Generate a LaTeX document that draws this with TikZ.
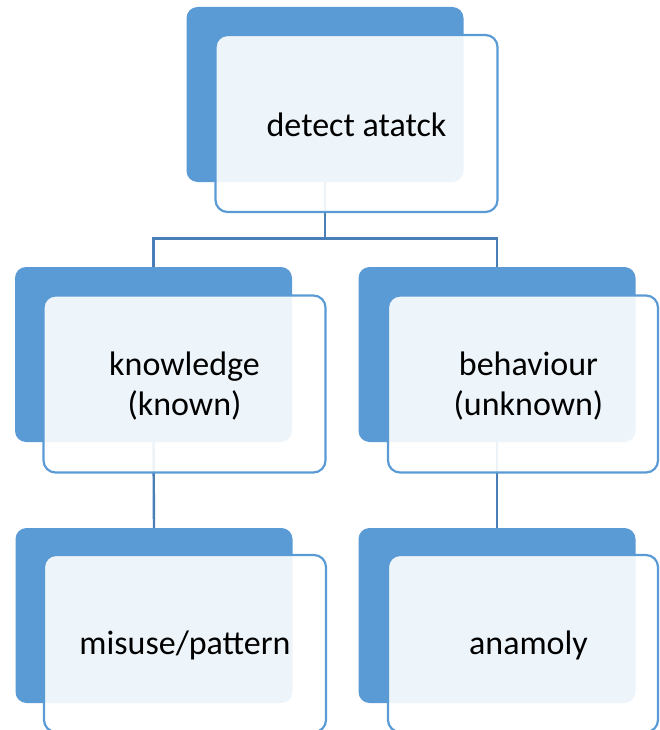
\documentclass[tikz,border=0pt]{standalone}
\usepackage{fontspec}
\setmainfont{Carlito}
\usetikzlibrary{backgrounds}
\definecolor{backblue}{HTML}{5B9BD5}
\definecolor{lineblue}{HTML}{4A7EB6}
\begin{document}
\begin{tikzpicture}[x=1pt,y=-1pt,
  backbox/.style={rectangle,rounded corners=11pt,fill=backblue,draw=none,minimum width=277pt,minimum height=175pt,inner sep=0pt},
  frontbox/.style={rectangle,rounded corners=12pt,fill=white,fill opacity=0.9,draw=backblue,draw opacity=1,line width=2.2pt,minimum width=282pt,minimum height=177pt,inner sep=0pt},
  label/.style={align=center,text=black,font=\fontsize{34}{40}\selectfont,inner sep=0pt},
  conn/.style={draw=lineblue,line width=2.4pt}]
\useasboundingbox (0,0) rectangle (659,730);
% top
\node[backbox] (tb) at (325,94.5) {};
\node[frontbox] (tf) at (356.5,123.5) {};
\node[label] (tt) at (356.5,125) {detect atatck};
% middle left
\node[backbox] (kb) at (153.5,354.5) {};
\node[frontbox] (kf) at (184.5,384) {};
\node[label] (kt) at (184.5,386) {knowledge\\(known)};
% middle right
\node[backbox] (hb) at (497,354.5) {};
\node[frontbox,minimum width=270pt] (hf) at (523,384) {};
\node[label] (ht) at (528.5,386) {behaviour\\(unknown)};
% bottom left
\node[backbox] (mb) at (154,615.5) {};
\node[frontbox] (mf) at (185,643.5) {};
\node[label] (mt) at (185,645) {misuse/pattern};
% bottom right
\node[backbox] (ab) at (497,615.5) {};
\node[frontbox,minimum width=270pt] (af) at (523,643.5) {};
\node[label] (at) at (528.5,645) {anamoly};
\coordinate (j) at (325,238.5);
\begin{scope}[on background layer]
\draw[conn] (tb.south) -- (tb.south |- j) -| (kb.north);
\draw[conn] (tb.south |- j) -| (hb.north);
\draw[conn] (kb.south) -- (mb.north);
\draw[conn] (hb.south) -- (ab.north);
\end{scope}
\end{tikzpicture}
\end{document}
